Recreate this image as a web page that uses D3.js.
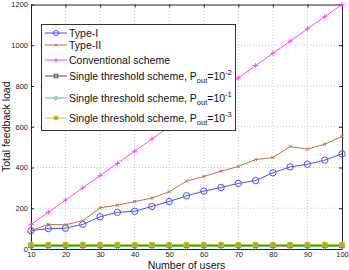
<!DOCTYPE html>
<html>
<head>
<meta charset="utf-8">
<script src="https://cdn.jsdelivr.net/npm/d3@7"></script>
<style>
  body { margin: 0; background: #fff; }
  svg { font-family: "Liberation Sans", Arial, sans-serif; }
</style>
</head>
<body>
<div id="chart"></div>
<script>
// values
var users = [10, 15, 20, 25, 30, 35, 40, 45, 50, 55, 60, 65, 70, 75, 80, 85, 90, 95, 100];
var typeI = [90, 100, 102, 121, 158, 180, 185, 209, 233, 261, 284, 302, 322, 336, 374, 403, 416, 436, 467];
var typeII = [90, 121, 119, 139, 202, 215, 233, 250, 281, 333, 356, 382, 405, 439, 449, 503, 490, 514, 553];
var conventional = [120, 180, 240, 300, 360, 420, 480, 540, 600, 660, 720, 780, 840, 900, 960, 1020, 1080, 1140, 1200];
var single2 = [18, 18, 18, 18, 18, 18, 18, 18, 18, 18, 18, 18, 18, 18, 18, 18, 18, 18, 18];
var single1 = [12, 12, 12, 12, 12, 12, 12, 12, 12, 12, 12, 12, 12, 12, 12, 12, 12, 12, 12];
var single3 = [22, 22, 22, 22, 22, 22, 22, 22, 22, 22, 22, 22, 22, 22, 22, 22, 22, 22, 22];
var xTicks = [10, 20, 30, 40, 50, 60, 70, 80, 90, 100];
var yTicks = [0, 200, 400, 600, 800, 1000, 1200];

var width = 349, height = 270;
var margin = {left: 31, right: 7, top: 4.5, bottom: 21};

var svg = d3.select("#chart").append("svg")
  .attr("width", width)
  .attr("height", height);

var x = d3.scaleLinear().domain([10, 100]).range([margin.left, width - margin.right]);
var y = d3.scaleLinear().domain([0, 1200]).range([height - margin.bottom, margin.top]);

// grid
svg.append("g").selectAll("line").data(xTicks.slice(1, -1)).enter().append("line")
  .attr("x1", d => x(d)).attr("x2", d => x(d))
  .attr("y1", y(0)).attr("y2", y(1200))
  .attr("stroke", "#bbb").attr("stroke-width", 0.8).attr("stroke-dasharray", "1,2");
svg.append("g").selectAll("line").data(yTicks.slice(1, -1)).enter().append("line")
  .attr("x1", x(10)).attr("x2", x(100))
  .attr("y1", d => y(d)).attr("y2", d => y(d))
  .attr("stroke", "#bbb").attr("stroke-width", 0.8).attr("stroke-dasharray", "1,2");

// axes
var fmt = d3.format("d");
var xAxis = svg.append("g").attr("transform", "translate(0," + y(0) + ")")
  .call(d3.axisBottom(x).tickValues(xTicks).tickFormat(fmt).tickSizeInner(-3).tickSizeOuter(0).tickPadding(3));
var xTop = svg.append("g").attr("transform", "translate(0," + y(1200) + ")")
  .call(d3.axisTop(x).tickValues(xTicks).tickSizeInner(-3).tickSizeOuter(0).tickFormat(""));
var yAxis = svg.append("g").attr("transform", "translate(" + x(10) + ",0)")
  .call(d3.axisLeft(y).tickValues(yTicks).tickFormat(fmt).tickSizeInner(-3).tickSizeOuter(0).tickPadding(3));
var yRight = svg.append("g").attr("transform", "translate(" + x(100) + ",0)")
  .call(d3.axisRight(y).tickValues(yTicks).tickSizeInner(-3).tickSizeOuter(0).tickFormat(""));
[xAxis, xTop, yAxis, yRight].forEach(function(a) {
  a.selectAll("path").attr("stroke", "#222").attr("stroke-width", 1);
  a.selectAll("line").attr("stroke", "#222");
  a.selectAll("text").attr("font-size", 7.5).attr("fill", "#222")
    .attr("font-family", "'Liberation Sans', Arial, sans-serif");
});

// series
var series = [
  {name: "Type-I", values: typeI, color: "#4d4dff", marker: "circle"},
  {name: "Type-II", values: typeII, color: "#c0714f", marker: "x"},
  {name: "Conventional scheme", values: conventional, color: "#ff44ff", marker: "plus"},
  {name: "Single threshold scheme, P", sub: "out", sup: "-2", values: single2, color: "#555555", marker: "square"},
  {name: "Single threshold scheme, P", sub: "out", sup: "-1", values: single1, color: "#5cbf8f", marker: "diamond"},
  {name: "Single threshold scheme, P", sub: "out", sup: "-3", values: single3, color: "#c8c828", marker: "dot"}
];

function drawMarker(g, type, cx, cy, color, big) {
  var s = big ? 1 : 0.8;
  if (type === "circle") {
    g.append("circle").attr("cx", cx).attr("cy", cy).attr("r", 3.2 * s)
      .attr("fill", "none").attr("stroke", color).attr("stroke-width", 1);
  } else if (type === "x") {
    var r = 1.6 * s;
    g.append("path").attr("d", "M" + (cx - r) + "," + (cy - r) + "L" + (cx + r) + "," + (cy + r) +
      "M" + (cx - r) + "," + (cy + r) + "L" + (cx + r) + "," + (cy - r))
      .attr("stroke", color).attr("stroke-width", 1);
  } else if (type === "plus") {
    var r = 2.5 * s;
    g.append("path").attr("d", "M" + (cx - r) + "," + cy + "L" + (cx + r) + "," + cy +
      "M" + cx + "," + (cy - r) + "L" + cx + "," + (cy + r))
      .attr("stroke", color).attr("stroke-width", 1);
  } else if (type === "square") {
    var r = 2.2 * s;
    g.append("rect").attr("x", cx - r).attr("y", cy - r).attr("width", 2 * r).attr("height", 2 * r)
      .attr("fill", "none").attr("stroke", color).attr("stroke-width", 1);
  } else if (type === "diamond") {
    var r = 2.8 * s;
    g.append("path").attr("d", "M" + cx + "," + (cy - r) + "L" + (cx + r) + "," + cy + "L" + cx + "," + (cy + r) +
      "L" + (cx - r) + "," + cy + "Z")
      .attr("fill", "none").attr("stroke", color).attr("stroke-width", 1);
  } else if (type === "dot") {
    g.append("circle").attr("cx", cx).attr("cy", cy).attr("r", 2.6 * s)
      .attr("fill", "#a8a830").attr("stroke", color).attr("stroke-width", 1);
  }
}

var line = d3.line().x(d => x(d[0])).y(d => y(d[1]));
series.forEach(function(s) {
  var pts = users.map((u, i) => [u, s.values[i]]);
  var g = svg.append("g");
  g.append("path").datum(pts).attr("d", line)
    .attr("fill", "none").attr("stroke", s.color).attr("stroke-width", 1);
  pts.forEach(function(p) { drawMarker(g, s.marker, x(p[0]), y(p[1]), s.color, true); });
});

// legend
var legend = svg.append("g");
legend.append("rect").attr("x", 41.5).attr("y", 24.5).attr("width", 194).attr("height", 106)
  .attr("fill", "#fff").attr("stroke", "#333").attr("stroke-width", 1);
var rowY = [33, 45, 60, 76, 98, 118];
series.forEach(function(s, i) {
  var yy = rowY[i];
  legend.append("line").attr("x1", 45).attr("x2", 67).attr("y1", yy).attr("y2", yy)
    .attr("stroke", s.color).attr("stroke-width", 1);
  drawMarker(legend, s.marker, 56, yy, s.color, false);
  var t = legend.append("text").attr("x", 69).attr("y", yy + 3.8)
    .attr("font-size", 10.5).attr("fill", "#111").text(s.name);
  if (s.sub) {
    t.append("tspan").attr("font-size", 7.5).attr("dy", 3).text(s.sub);
    t.append("tspan").attr("dy", -3).text("=10");
    t.append("tspan").attr("font-size", 7.5).attr("dy", -5).text(s.sup);
  }
});

// axis labels
svg.append("text").attr("x", (x(10) + x(100)) / 2).attr("y", 268.5)
  .attr("text-anchor", "middle").attr("font-size", 10.5).attr("fill", "#111").text("Number of users");
svg.append("text").attr("transform", "translate(10," + (y(600)) + ") rotate(-90)")
  .attr("text-anchor", "middle").attr("font-size", 10.5).attr("fill", "#111").text("Total feedback load");
</script>
</body>
</html>
